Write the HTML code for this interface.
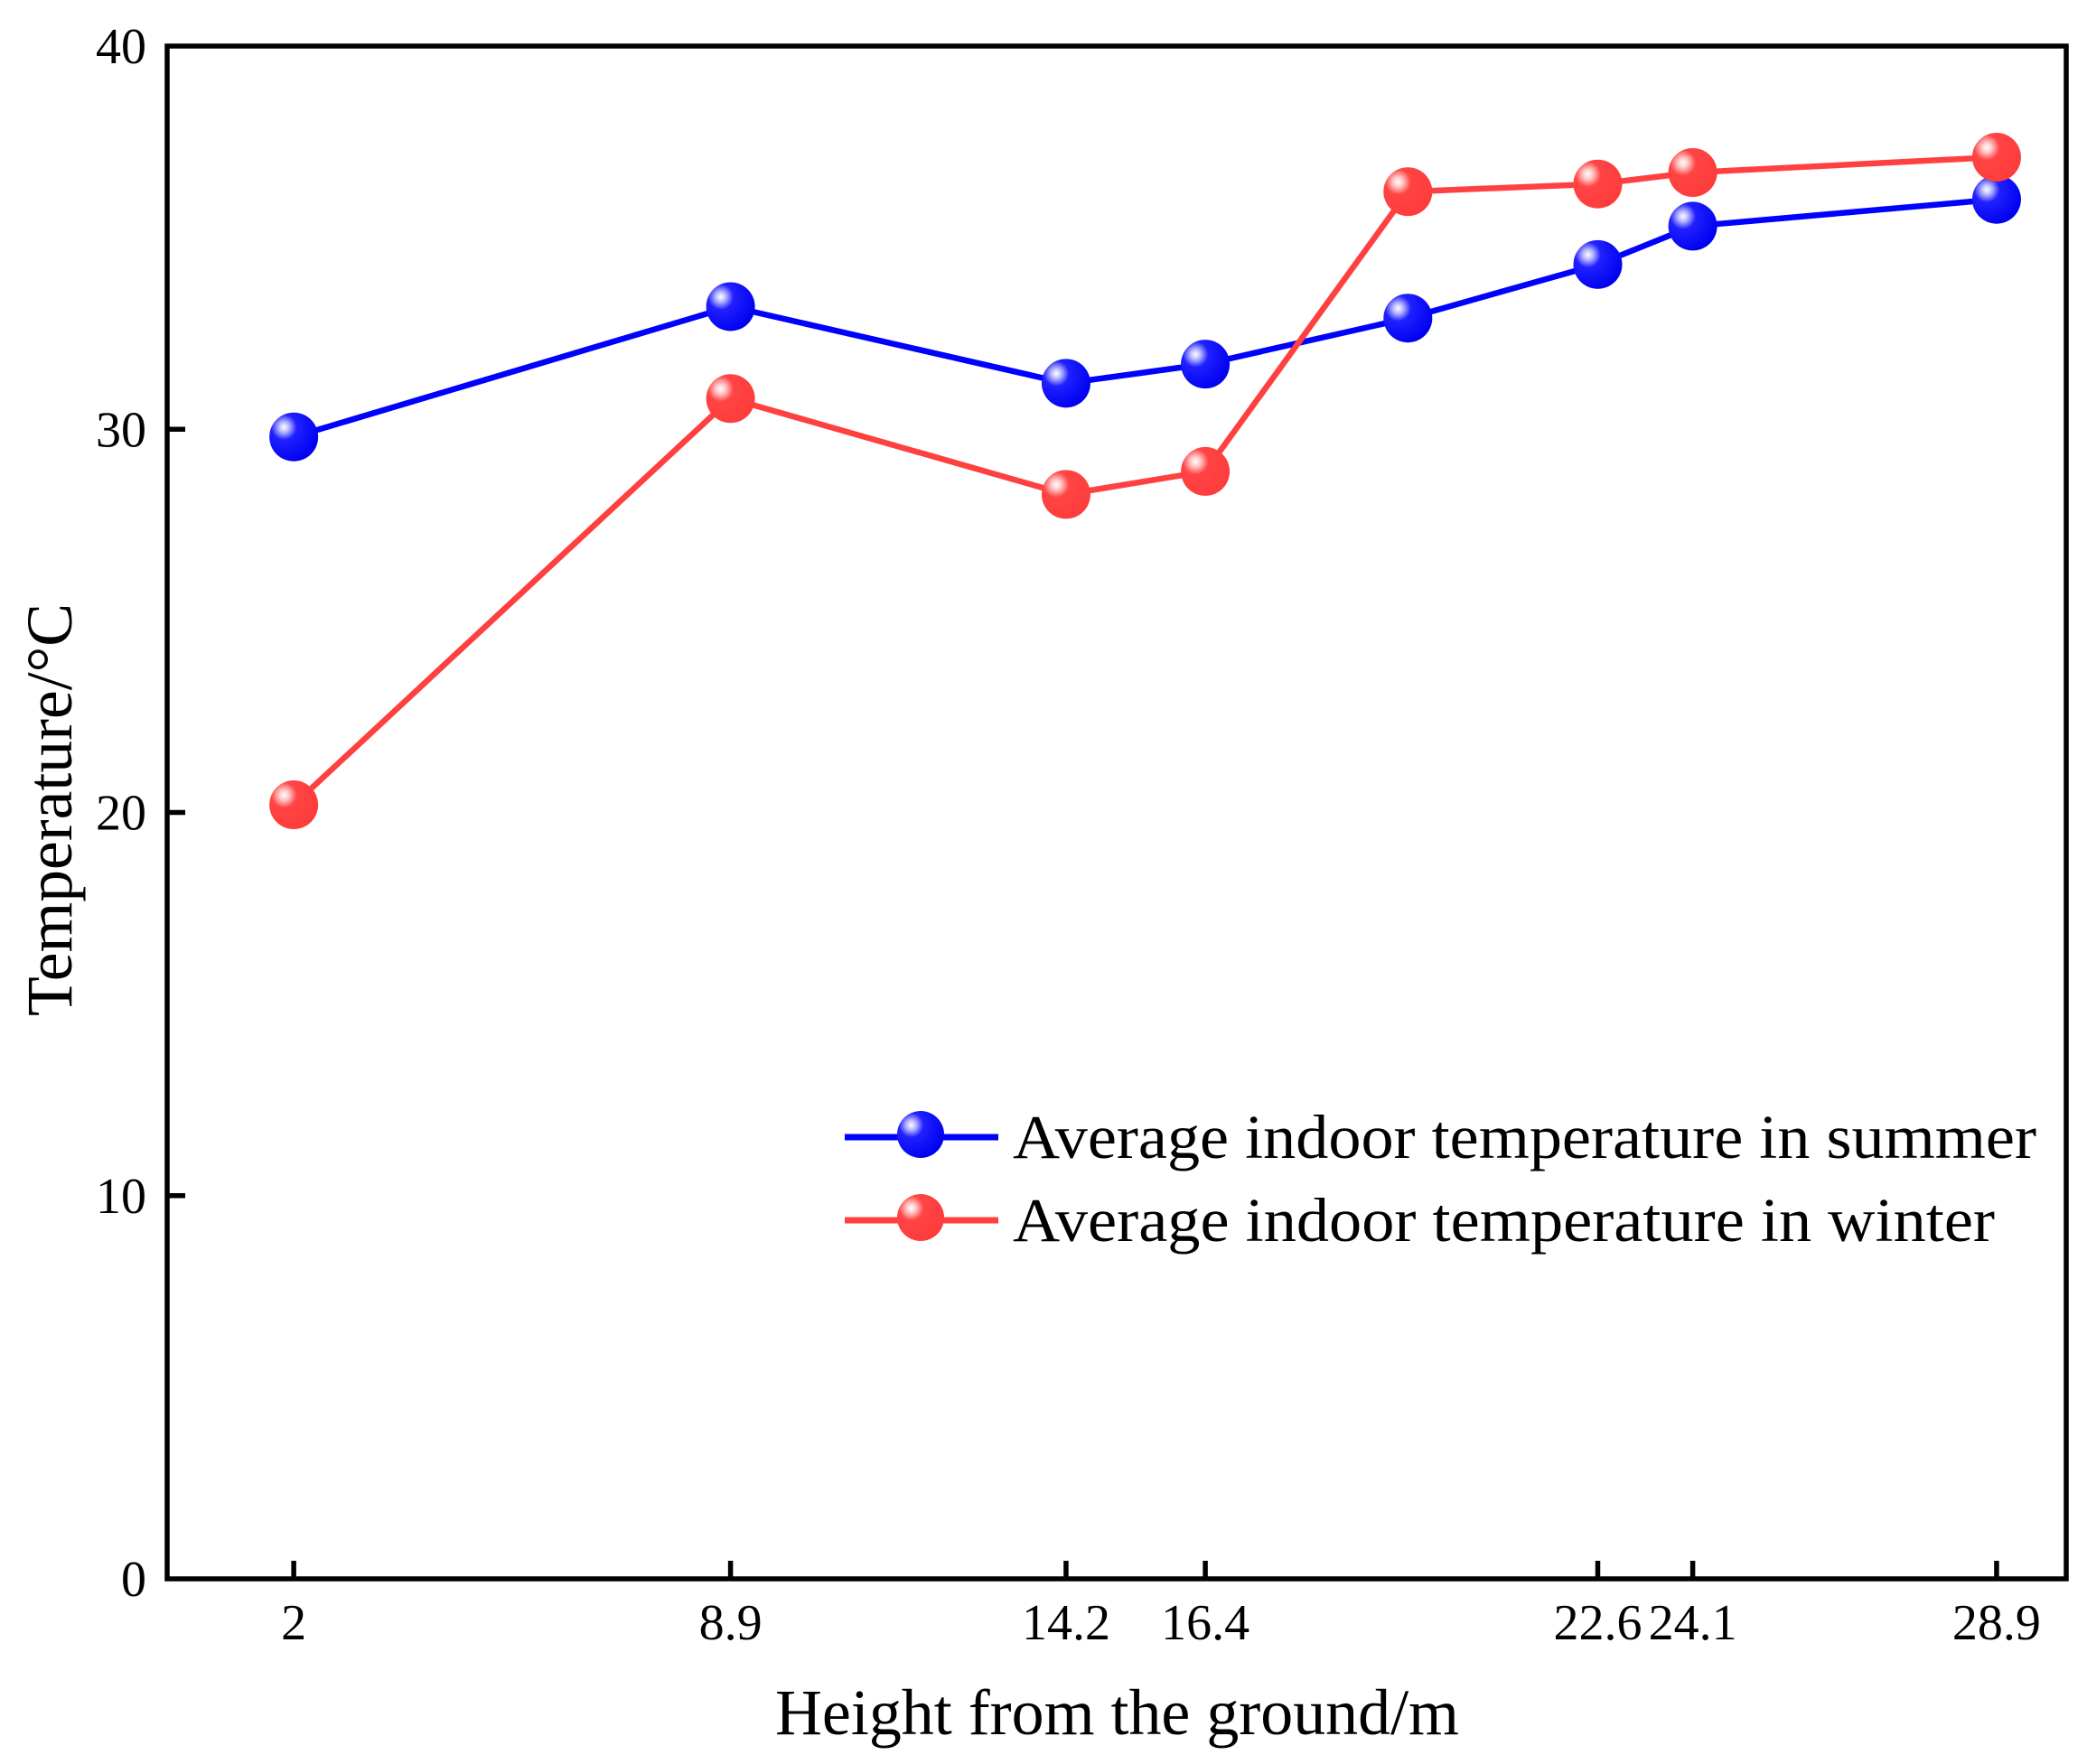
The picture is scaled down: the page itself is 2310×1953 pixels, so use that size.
<!DOCTYPE html>
<html><head><meta charset="utf-8"><style>
html,body{margin:0;padding:0;background:#fff;}
svg{display:block;font-family:"Liberation Serif","Times New Roman",serif;}
</style></head><body>
<svg id="chart" width="2310" height="1953" viewBox="0 0 2310 1953" xmlns="http://www.w3.org/2000/svg">
<defs>
<radialGradient id="gBlue" cx="0.3" cy="0.3" r="0.75">
<stop offset="0" stop-color="#ffffff"/><stop offset="0.15" stop-color="#b0b0ff"/><stop offset="0.35" stop-color="#2020ff"/><stop offset="1" stop-color="#0000f0"/>
</radialGradient>
<radialGradient id="gRed" cx="0.3" cy="0.3" r="0.75">
<stop offset="0" stop-color="#ffffff"/><stop offset="0.15" stop-color="#ffc0c0"/><stop offset="0.35" stop-color="#ff4444"/><stop offset="1" stop-color="#ff3c3c"/>
</radialGradient>
</defs>
<g id="plot"></g>
</svg>
<script>
const heights = [2, 8.9, 14.2, 16.4, 19.6, 22.6, 24.1, 28.9];
const summerTemps = [29.8, 33.2, 31.2, 31.7, 32.9, 34.3, 35.3, 36.0];
const winterTemps = [20.2, 30.8, 28.3, 28.9, 36.2, 36.4, 36.7, 37.1];
const xTickValues = [2, 8.9, 14.2, 16.4, 22.6, 24.1, 28.9];
const xTickLabels = ["2", "8.9", "14.2", "16.4", "22.6", "24.1", "28.9"];
const yTickValues = [0, 10, 20, 30, 40];
const yTickLabels = ["0", "10", "20", "30", "40"];

const NS = "http://www.w3.org/2000/svg";
const L = 185, R = 2287, T = 51, B = 1748;
const X0 = 0, X1 = 30, Y0 = 0, Y1 = 40;
function xs(v){ return L + (v - X0) / (X1 - X0) * (R - L); }
function ys(v){ return B - (v - Y0) / (Y1 - Y0) * (B - T); }
const g = document.getElementById('plot');
function mk(tag, attrs, parent){
  const e = document.createElementNS(NS, tag);
  for (const k in attrs) e.setAttribute(k, attrs[k]);
  (parent || g).appendChild(e);
  return e;
}

// frame
const frame = mk('rect', {x:L, y:T, width:R-L, height:B-T, fill:'none', stroke:'#000', 'stroke-width':5.5});



// y ticks
yTickValues.forEach((v, i) => {
  const y = ys(v);
  if (v > Y0 && v < Y1) {
    const t = mk('line', {x1:L, x2:L+20, y1:y, y2:y, stroke:'#000', 'stroke-width':5.5});
    
    
  }
  const tx = mk('text', {x:162, y:y+19, 'text-anchor':'end', 'font-size':56, fill:'#000'});
  tx.textContent = yTickLabels[i];
  
  
});

// x ticks
xTickValues.forEach((v, i) => {
  const x = xs(v);
  const t = mk('line', {x1:x, x2:x, y1:B, y2:B-20, stroke:'#000', 'stroke-width':5.5});
  
  
  const tx = mk('text', {x:x, y:1815, 'text-anchor':'middle', 'font-size':56, fill:'#000'});
  tx.textContent = xTickLabels[i];
  
  
});

// axis titles
const xt = mk('text', {x:858, y:1920, 'font-size':72, fill:'#000', textLength:757, lengthAdjust:'spacingAndGlyphs'});
xt.textContent = 'Height from the ground/m';


const yt = mk('text', {x:0, y:0, 'font-size':72, fill:'#000', textLength:457, lengthAdjust:'spacingAndGlyphs', transform:'translate(79,1125) rotate(-90)'});
yt.textContent = 'Temperature/\u00B0C';



function series(vals, color, grad, name){
  const pts = heights.map((h, i) => xs(h) + ',' + ys(vals[i])).join(' ');
  const pl = mk('polyline', {points:pts, fill:'none', stroke:color, 'stroke-width':6.5, 'stroke-linejoin':'round'});
  
  
  heights.forEach((h, i) => {
    const c = mk('circle', {cx:xs(h), cy:ys(vals[i]), r:27, fill:'url(#' + grad + ')'});
    
    
  });
}
series(summerTemps, '#0000ff', 'gBlue', 'summer');
series(winterTemps, '#ff4040', 'gRed', 'winter');

// legend
function legend(y, color, grad, label, name, len){
  const lg = mk('g', {});
  
  
  mk('line', {x1:935, x2:1105, y1:y, y2:y, stroke:color, 'stroke-width':7}, lg);
  mk('circle', {cx:1019, cy:y-3, r:26, fill:'url(#' + grad + ')'}, lg);
  const t = mk('text', {x:1121, y:y+23, 'font-size':69, fill:'#000', textLength:len, lengthAdjust:'spacingAndGlyphs'}, lg);
  t.textContent = label;
}
legend(1259, '#0000ff', 'gBlue', 'Average indoor temperature in summer', 'summer', 1133);
legend(1351, '#ff4040', 'gRed', 'Average indoor temperature in winter', 'winter', 1087);
</script>
</body></html>
